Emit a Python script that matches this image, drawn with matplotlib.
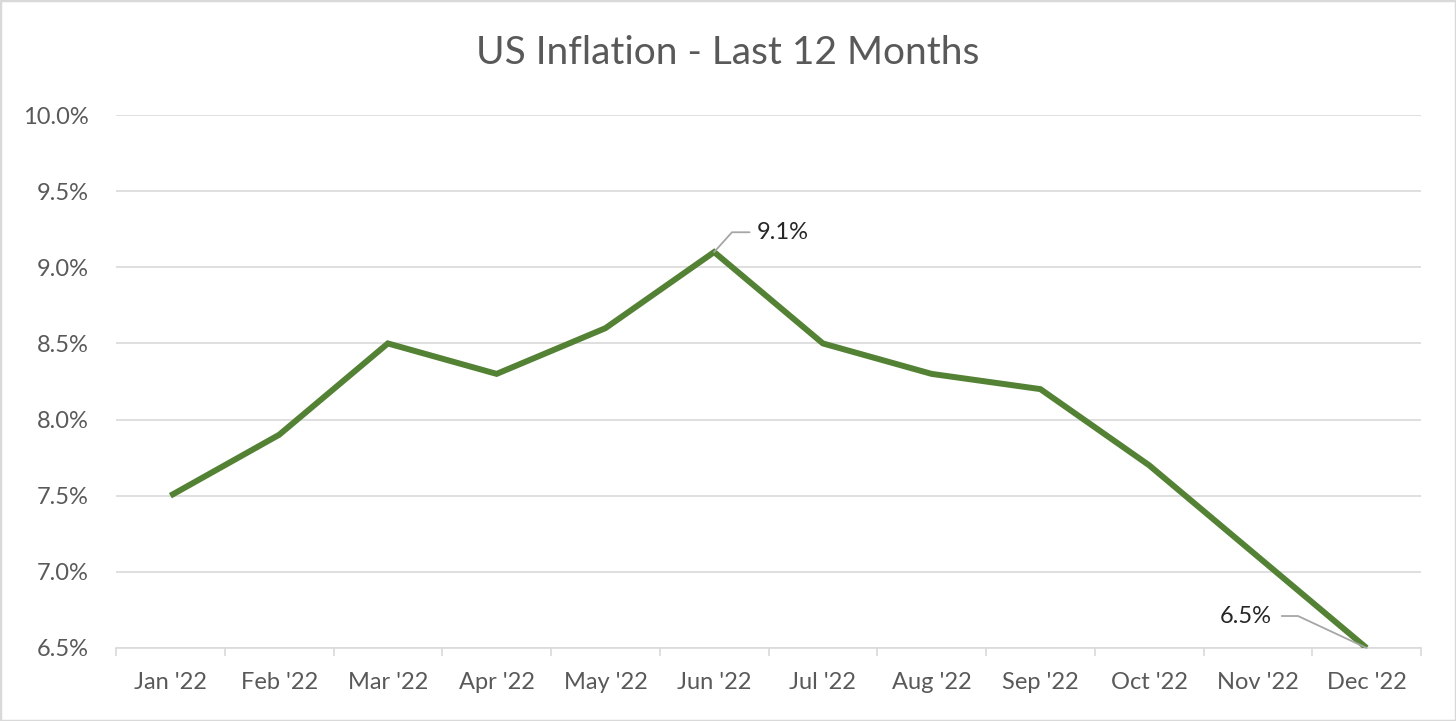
import matplotlib
matplotlib.use("Agg")
import matplotlib.pyplot as plt
from matplotlib.patches import Rectangle

months = ["Jan '22", "Feb '22", "Mar '22", "Apr '22", "May '22", "Jun '22",
          "Jul '22", "Aug '22", "Sep '22", "Oct '22", "Nov '22", "Dec '22"]
inflation = [7.5, 7.9, 8.5, 8.3, 8.6, 9.1, 8.5, 8.3, 8.2, 7.7, 7.1, 6.5]
yticks = [6.5, 7.0, 7.5, 8.0, 8.5, 9.0, 9.5, 10.0]

plt.rcParams['font.family'] = ['Lato', 'DejaVu Sans']
text_color = '#595959'
grid_color = '#d9d9d9'

fig = plt.figure(figsize=(14.56, 7.21), dpi=100)
ax = fig.add_axes([116/1456, 1-648/721, (1421-116)/1456, (648-115)/721])

x = list(range(len(months)))
ax.plot(x, inflation, color='#548235', lw=4.3, solid_joinstyle='miter', solid_capstyle='butt', zorder=3)

ax.set_xlim(-0.5, len(months)-0.5)
ax.set_ylim(6.5, 10.0)
ax.set_yticks(yticks)
ax.set_yticklabels([f"{v:.1f}%" for v in yticks], fontsize=17, color=text_color)
ax.yaxis.grid(True, color=grid_color, lw=1.2)
ax.tick_params(axis='y', length=0, pad=19.5)
ax.set_xticks(x)
ax.set_xticklabels(months, fontsize=17, color=text_color)
ax.set_xticks([i-0.5 for i in range(len(months)+1)], minor=True)
ax.tick_params(axis='x', which='major', length=0, pad=17)
ax.tick_params(axis='x', which='minor', length=6, color=grid_color, width=1.2)
for s in ['top', 'right', 'left']:
    ax.spines[s].set_visible(False)
ax.spines['bottom'].set_color(grid_color)
ax.spines['bottom'].set_linewidth(1.2)
ax.set_axisbelow(True)

# annotations
i = 5
ax.annotate(f"{inflation[i]:.1f}%", xy=(i, inflation[i]), xytext=(i+0.39, inflation[i]+0.13),
            fontsize=17, color='#262626', va='center', ha='left',
            arrowprops=dict(arrowstyle='-', color='#a6a6a6', lw=1.3,
                            connectionstyle='angle,angleA=0,angleB=48,rad=0', shrinkA=3, shrinkB=0))
i = 11
ax.annotate(f"{inflation[i]:.1f}%", xy=(i, inflation[i]), xytext=(i-0.87, inflation[i]+0.21),
            fontsize=17, color='#262626', va='center', ha='right',
            arrowprops=dict(arrowstyle='-', color='#a6a6a6', lw=1.3,
                            connectionstyle='angle,angleA=0,angleB=-25,rad=0', shrinkA=5, shrinkB=0))

fig.text(0.5, 1-53/721, "US Inflation - Last 12 Months", ha='center', va='center',
         fontsize=28, color='#595959')

fig.patches.append(Rectangle((0, 0), 1, 1, transform=fig.transFigure, fill=False,
                             edgecolor='#d9d9d9', lw=2.5))

fig.savefig("out.png", dpi=100, facecolor='white')
